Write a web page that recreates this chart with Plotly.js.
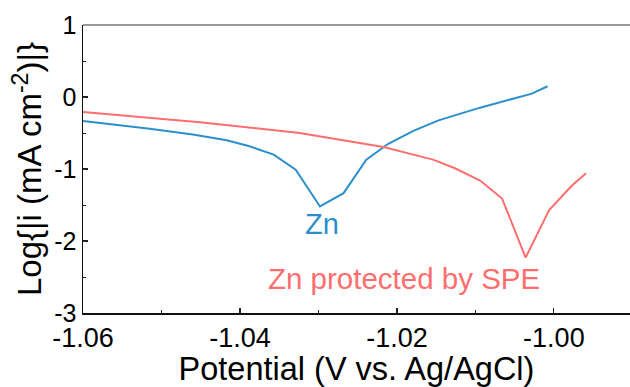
<!DOCTYPE html>
<html>
<head>
<meta charset="utf-8">
<script src="https://cdn.plot.ly/plotly-3.0.1.min.js"></script>
<style>
html,body{margin:0;padding:0;background:#fff;}
#chart{width:630px;height:387px;}
</style>
</head>
<body>
<div id="chart"></div>
<script>
// Zn (bare) polarization curve
const znPotential = [-1.0600, -1.0515, -1.0460, -1.0417, -1.0389, -1.0357, -1.0329, -1.0298, -1.0268, -1.0239, -1.0211, -1.0179, -1.0147, -1.0094, -1.0028, -1.0008];
const znLogI      = [-0.334, -0.44, -0.52, -0.60, -0.68, -0.80, -1.01, -1.52, -1.335, -0.87, -0.65, -0.47, -0.324, -0.148, 0.047, 0.149];

// Zn protected by SPE polarization curve
const spePotential = [-1.0600, -1.0451, -1.0324, -1.0217, -1.0183, -1.0154, -1.0126, -1.0094, -1.0066, -1.0036, -1.0006, -0.9977, -0.9959];
const speLogI      = [-0.21, -0.35, -0.50, -0.695, -0.79, -0.87, -0.99, -1.16, -1.41, -2.23, -1.57, -1.23, -1.06];

const seriesNames = ['Zn', 'Zn protected by SPE'];
const xTickVals = [-1.06, -1.04, -1.02, -1.00];
const xTickText = ['-1.06', '-1.04', '-1.02', '-1.00'];
const yTickVals = [-3, -2, -1, 0, 1];
const yTickText = ['-3', '-2', '-1', '0', '1'];

const blue = '#2b8fce';
const red = '#ff6e6e';
const font = 'Liberation Sans, Arial, sans-serif';

const traces = [
  {x: znPotential, y: znLogI, mode: 'lines', name: seriesNames[0], line: {color: blue, width: 2}},
  {x: spePotential, y: speLogI, mode: 'lines', name: seriesNames[1], line: {color: red, width: 2}}
];

const layout = {
  width: 630, height: 387,
  margin: {l: 83, r: 0, t: 25, b: 74, pad: 0},
  paper_bgcolor: '#fff', plot_bgcolor: '#fff',
  showlegend: false,
  font: {family: font, color: '#000'},
  xaxis: {
    range: [-1.06, -0.9903],
    tickvals: xTickVals, ticktext: xTickText,
    ticks: 'inside', ticklen: 5, tickwidth: 1.2, tickcolor: '#222',
    minor: {dtick: 0.01, tick0: -1.06, ticks: 'inside', ticklen: 3, tickwidth: 1, tickcolor: '#222'},
    showline: true, linecolor: '#111', linewidth: 1.5,
    showgrid: false, zeroline: false,
    tickfont: {size: 27, family: font, color: '#000'},
    title: {text: 'Potential (V vs. Ag/AgCl)', font: {size: 32.5, family: font, color: '#000'}, standoff: 0}
  },
  yaxis: {
    range: [-3, 1],
    tickvals: yTickVals, ticktext: yTickText,
    ticks: 'inside', ticklen: 5, tickwidth: 1.2, tickcolor: '#222',
    minor: {dtick: 0.5, tick0: 0, ticks: 'inside', ticklen: 3, tickwidth: 1, tickcolor: '#222'},
    showline: true, linecolor: '#111', linewidth: 1.5,
    showgrid: false, zeroline: false,
    tickfont: {size: 25, family: font, color: '#000'},
    title: {text: 'Log{|i (mA cm<sup>-2</sup>)|}', font: {size: 33, family: font, color: '#000'}, standoff: 2}
  },
  shapes: [
    {type: 'line', xref: 'paper', yref: 'paper', x0: 0, x1: 1, y0: 1, y1: 1, line: {color: '#777', width: 1.5}}
  ],
  annotations: [
    {x: -1.0296, y: -1.76, xref: 'x', yref: 'y', text: seriesNames[0], showarrow: false,
     font: {size: 29, family: font, color: blue}, xanchor: 'center', yanchor: 'middle'},
    {x: -1.0191, y: -2.52, xref: 'x', yref: 'y', text: seriesNames[1], showarrow: false,
     font: {size: 29.5, family: font, color: red}, xanchor: 'center', yanchor: 'middle'}
  ]
};

Plotly.newPlot('chart', traces, layout, {displayModeBar: false, staticPlot: true});
</script>
</body>
</html>
